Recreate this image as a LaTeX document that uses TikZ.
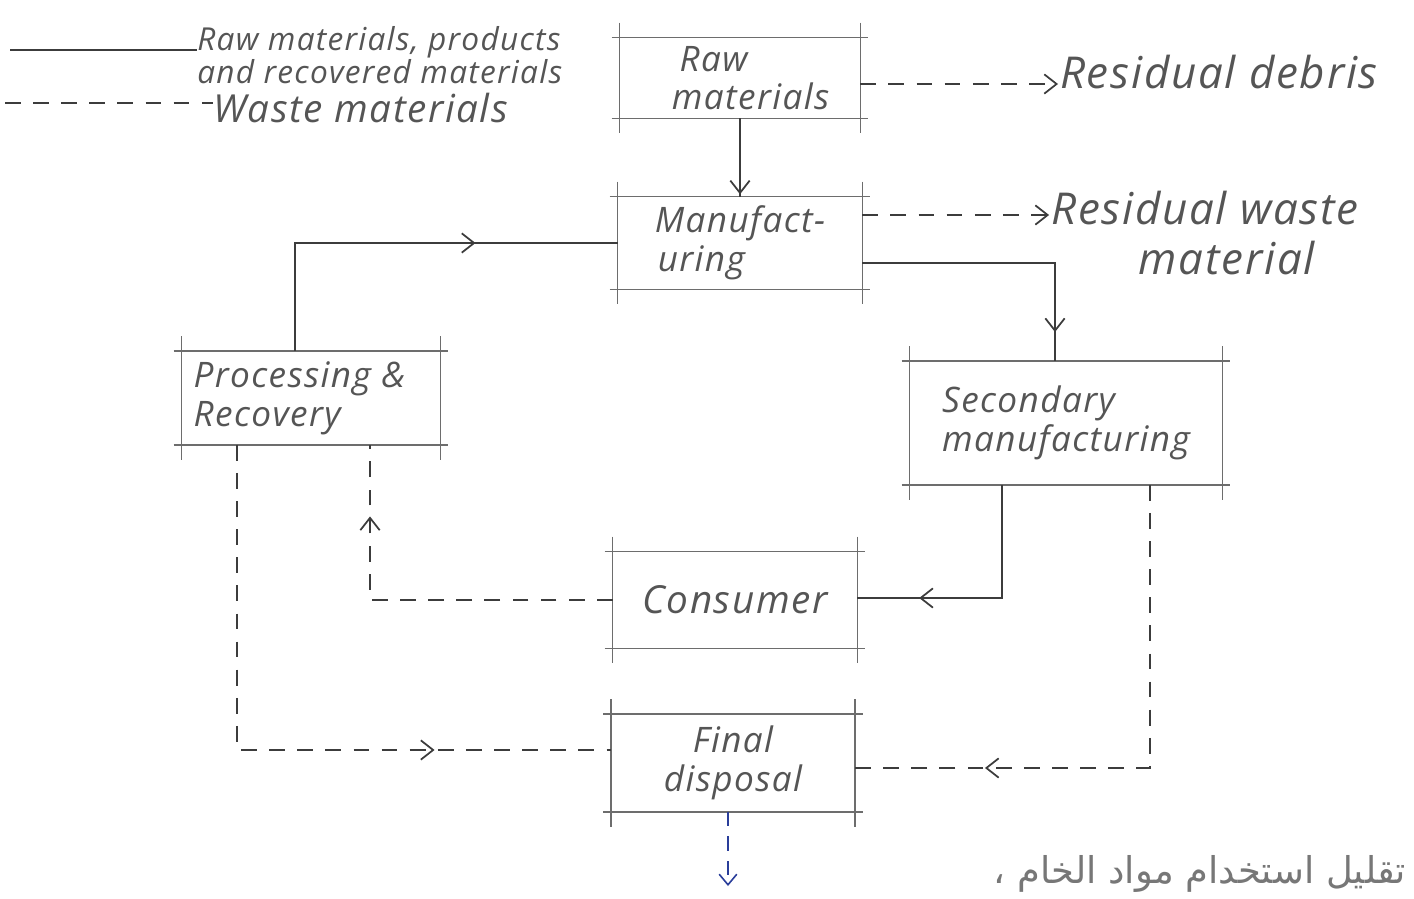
\documentclass[tikz,border=0pt]{standalone}
\usepackage{fontspec}
\newfontfamily\arabicfont[Script=Arabic]{DejaVu Sans}
\newfontfamily\hand{Open Sans}[LetterSpace=4]
\TeXXeTstate=1
\usetikzlibrary{arrows.meta,decorations.markings,calc}
\definecolor{ink}{HTML}{3C3C3C}
\definecolor{pencil}{HTML}{555555}
\definecolor{blueink}{HTML}{2A3E9A}
\newcommand\crossbox[1]{%
  \draw[boxline] ($(#1.north west)+(-8,0)$) -- ($(#1.north east)+(8,0)$);
  \draw[boxline] ($(#1.south west)+(-8,0)$) -- ($(#1.south east)+(8,0)$);
  \draw[boxline] ($(#1.north west)+(0,-15)$) -- ($(#1.south west)+(0,15)$);
  \draw[boxline] ($(#1.north east)+(0,-15)$) -- ($(#1.south east)+(0,15)$);}
\begin{document}
\begin{tikzpicture}[x=0.02cm,y=-0.02cm,
  boxline/.style={draw=ink!75,line width=0.9pt},
  stage/.style={draw=none,align=center,inner sep=0pt,font=\hand\itshape\fontsize{20}{22}\selectfont,text=pencil},
  flow/.style={draw=ink,line width=1pt},
  waste/.style={draw=ink,line width=1pt,dash pattern=on 9pt off 7pt},
  midarrow/.style={postaction={decorate,decoration={markings,mark=at position #1 with {\arrow{Straight Barb[length=7pt,width=11pt,line width=1pt]}}}}},
  lbl/.style={font=\hand\itshape\fontsize{25}{28}\selectfont,text=pencil,inner sep=1pt},
  leg/.style={font=\hand\itshape\fontsize{18}{16}\selectfont,text=pencil,inner sep=0pt,align=left}]
\useasboundingbox (0,0) rectangle (1414,899);

% stages
\node[stage,minimum width=4.8cm,minimum height=1.6cm] (raw) at (740,78) {Raw\hspace*{1.5em}\\ \hspace*{0.6em}materials};
\node[stage,minimum width=4.88cm,minimum height=1.84cm] (manuf) at (740,243) {Manufact-\\uring\hspace*{2.2em}};
\node[stage,minimum width=5.16cm,minimum height=1.86cm,align=left] (proc) at (311,398) {Processing \&\\Recovery\hspace*{2.5em}};
\node[stage,minimum width=6.24cm,minimum height=2.46cm,align=left] (sec) at (1066,423) {Secondary\hspace*{2em}\\manufacturing};
\node[stage,minimum width=4.88cm,minimum height=1.92cm,font=\hand\itshape\fontsize{22}{22}\selectfont] (cons) at (735,600) {Consumer};
\node[stage,minimum width=4.86cm,minimum height=1.94cm] (final) at (733,763) {Final\\disposal};
\crossbox{raw}
\crossbox{manuf}
\crossbox{proc}
\crossbox{sec}
\crossbox{cons}
\crossbox{final}

% free labels
\node[lbl,anchor=west] (debris) at (1058,72) {Residual debris};
\node[lbl,align=center] (wastelab) at (1205,233) {Residual waste\\\hspace*{1em}material};

% legend
\node[leg,anchor=west] (legraw) at (197,55) {Raw materials, products\\and recovered materials};
\node[leg,anchor=west,font=\hand\itshape\fontsize{22}{21}\selectfont] (legwaste) at (213,108) {Waste materials};
\coordinate (ls) at (10,50);
\coordinate (lw) at (5,103);
\draw[flow] (ls) -- (ls -| legraw.west);
\draw[waste] (lw) -- (lw -| legwaste.west);

% connectors
\draw[flow,midarrow=0.97] (raw.south) -- (manuf.north);
\coordinate (r1) at ($(raw.east)+(0,6)$);
\draw[waste,-{Straight Barb[length=7pt,width=11pt,line width=1pt]}] (r1) -- (r1 -| debris.west);
\coordinate (m1) at ($(manuf.east)+(0,-28)$);
\draw[waste,-{Straight Barb[length=7pt,width=11pt,line width=1pt]}] (m1) -- (m1 -| wastelab.west);
\draw[flow,midarrow=0.9] ($(manuf.east)+(0,20)$) -| ($(sec.north)+(-11,0)$);
\draw[flow,midarrow=0.67] ($(proc.north)+(-16,0)$) |- (manuf.west);
\draw[flow,midarrow=0.76] ($(sec.south)+(-64,0)$) |- ($(cons.east)+(0,-2)$);
\draw[waste,midarrow=0.82] ($(cons.west)+(0,0)$) -| ($(proc.south)+(59,0)$);
\draw[waste,midarrow=0.74] ($(proc.south)+(-74,0)$) |- ($(final.west)+(0,-13)$);
\draw[waste,midarrow=0.775] ($(sec.south)+(84,0)$) |- ($(final.east)+(0,5)$);
\coordinate (out) at (728,886);
\draw[draw=blueink,line width=0.9pt,dash pattern=on 8pt off 6pt,-{Straight Barb[length=6pt,width=10pt,line width=0.9pt]}] (final.south -| out) -- (out);

% faint note
\node[font=\arabicfont\fontsize{21}{22}\selectfont,text=pencil!80,anchor=east,inner sep=2pt] (note) at (1410,874) {\beginR تقليل استخدام مواد الخام ،\endR};
\end{tikzpicture}
\end{document}
